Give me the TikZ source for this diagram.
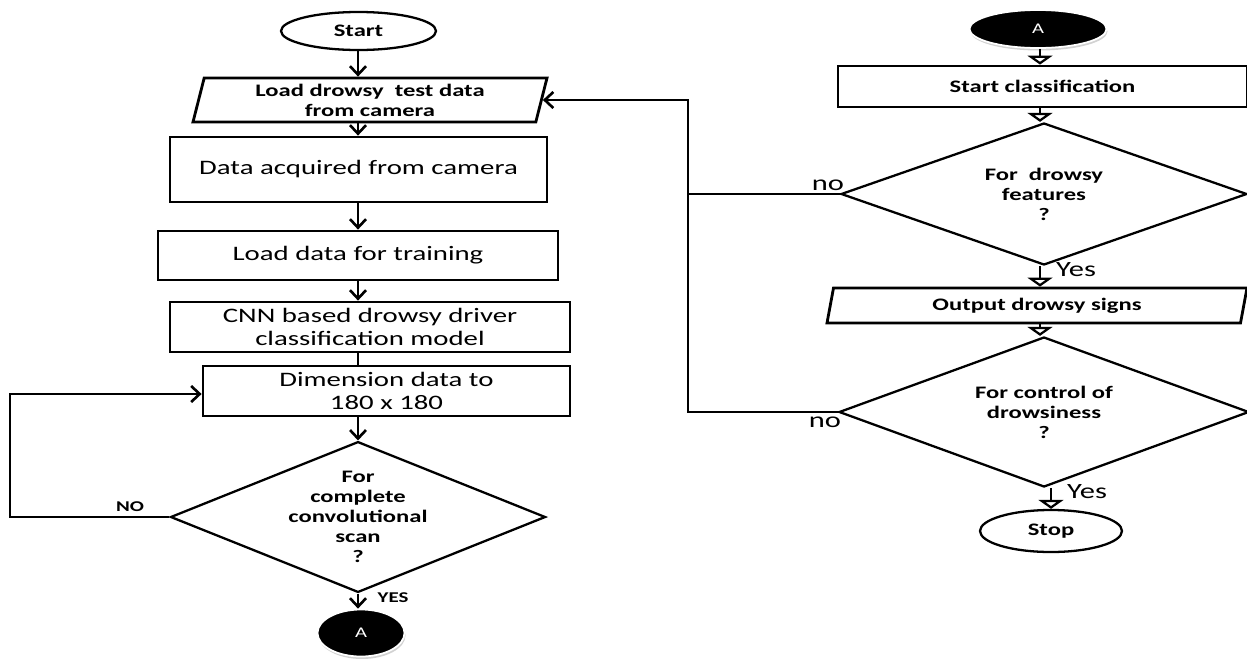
\documentclass[tikz,border=0pt]{standalone}
\usepackage{fontspec}
\setmainfont{Carlito}[FakeStretch=1.4]
\usetikzlibrary{arrows.meta,shapes.geometric,shadows}

\newcommand{\smalltxt}{\bfseries\fontsize{10}{11.4}\selectfont}
\newcommand{\bigtxt}{\fontsize{11.7}{13}\selectfont}
\newcommand{\labeltxt}{\fontsize{12.4}{14}\selectfont}
\newcommand{\capstxt}{\bfseries\fontsize{8.5}{10}\selectfont}

\tikzset{
  process/.style={draw, rectangle, line width=1.6pt, align=center, inner sep=0pt, font=\bigtxt},
  inout/.style={draw, trapezium, trapezium stretches body, line width=1.6pt,
    align=center, inner sep=0pt, font=\smalltxt},
  decision/.style={draw, diamond, line width=1.3pt, align=center, inner sep=-4mm, font=\smalltxt},
  terminal/.style={draw, ellipse, line width=1.3pt, inner sep=0pt, font=\smalltxt},
  connector/.style={ellipse, fill=black, draw=white, line width=1pt, text=white,
    font=\fontsize{8.4}{10}\selectfont,
    drop shadow={shadow xshift=0.2mm, shadow yshift=-0.5mm, fill=gray!70, opacity=0.5}},
  lbl/.style={inner sep=0pt, font=\labeltxt},
  lblcaps/.style={inner sep=0pt, font=\capstxt},
  flow/.style={-{Straight Barb[length=1.7mm, width=3.2mm]}, line width=1.5pt},
  flowopen/.style={-{Triangle[open, fill=white, length=1.8mm, width=5mm]}, line width=1.3pt},
  plain/.style={line width=1.5pt}
}

\begin{document}
\begin{tikzpicture}
  \useasboundingbox (0,0) rectangle (24.94,-13.16);
  %--------------- left column ---------------
  \coordinate (spine) at (7.16,0);
  \node[terminal, minimum width=3.1cm, minimum height=0.76cm] (start) at (7.17,-0.62) {Start};
  \node[inout, trapezium left angle=71, trapezium right angle=109,
    minimum width=7.08cm, minimum height=0.88cm] (load) at (7.4,-2.0) {Load drowsy~ test data\\from camera};
  \node[process, minimum width=7.54cm, minimum height=1.3cm] (acquire) at (7.17,-3.39) {Data acquired from camera};
  \node[process, minimum width=8cm, minimum height=0.98cm] (train) at (7.16,-5.11) {Load data for training};
  \node[process, minimum width=8cm, minimum height=1cm] (cnn) at (7.4,-6.54) {CNN based drowsy driver\\classification model};
  \node[process, minimum width=7.34cm, minimum height=1cm] (resize) at (7.73,-7.82) {Dimension data to\\180 x 180};
  \node[decision, minimum width=7.5cm, minimum height=2.86cm] (scan) at (7.16,-10.34)
    {For\\complete\\convolutional\\scan\\?};
  \node[connector, minimum width=1.74cm, minimum height=0.94cm] (goA) at (7.22,-12.66) {A};
  % labels
  \node[lblcaps] (nolbl) at (2.6,-10.14) {NO};
  \node[lblcaps] (yeslbl) at (7.86,-11.96) {YES};

  %--------------- right column ---------------
  \coordinate (spineR) at (20.8,0);
  \coordinate (rail) at (13.76,0);
  \node[connector, minimum width=2.74cm, minimum height=0.76cm] (fromA) at (20.76,-0.58) {A};
  \node[process, font=\smalltxt, minimum width=8.18cm, minimum height=0.82cm] (classify) at (20.85,-1.73) {Start classification};
  \node[decision, minimum width=8.12cm, minimum height=2.84cm] (features) at (20.88,-3.88) {For~ drowsy\\features\\?};
  \node[inout, trapezium left angle=67, trapezium right angle=113,
    minimum width=8.4cm, minimum height=0.7cm] (signs) at (20.74,-6.11) {Output drowsy signs};
  \node[decision, minimum width=8.2cm, minimum height=3.0cm] (control) at (20.88,-8.24) {For control of\\drowsiness\\?};
  \node[terminal, minimum width=2.84cm, minimum height=0.84cm] (stop) at (21.02,-10.62) {Stop};
  % labels
  \node[lbl] (nofeat) at (16.56,-3.7) {no};
  \node[lbl] (yesfeat) at (21.52,-5.4) {Yes};
  \node[lbl] (nocontrol) at (16.5,-8.44) {no};
  \node[lbl] (yescontrol) at (21.74,-9.84) {Yes};

  %--------------- arrows ---------------
  \draw[flow] (start.south -| spine) -- (load.north -| spine);
  \draw[flow] (load.south -| spine) -- (acquire.north -| spine);
  \draw[flow] (acquire.south -| spine) -- (train.north -| spine);
  \draw[flow] (train.south -| spine) -- (cnn.north -| spine);
  \draw[plain] (cnn.south -| spine) -- (resize.north -| spine);
  \draw[flow] (resize.south -| spine) -- (scan.north);
  \draw[flow] (scan.south) -- (scan.south |- goA.north);
  % scan -> resize (NO)
  \coordinate (loopcorner) at (0.2,-7.88);
  \draw[flow] (scan.west) -| (loopcorner) -- (loopcorner -| resize.west);

  \draw[flowopen] (fromA.south -| spineR) -- (classify.north -| spineR);
  \draw[flowopen] (classify.south -| spineR) -- (features.north -| spineR);
  \draw[flowopen] (features.south -| spineR) -- (signs.north -| spineR);
  \draw[flowopen] (signs.south -| spineR) -- (control.north -| spineR);
  \draw[flowopen] (stop.north |- control.south) -- (stop.north);
  % no -> back to load
  \draw[plain] (features.west) -- (features.west -| rail);
  \draw[flow] (control.west) -| (rail |- load.east) -- (load.east);
\end{tikzpicture}
\end{document}
